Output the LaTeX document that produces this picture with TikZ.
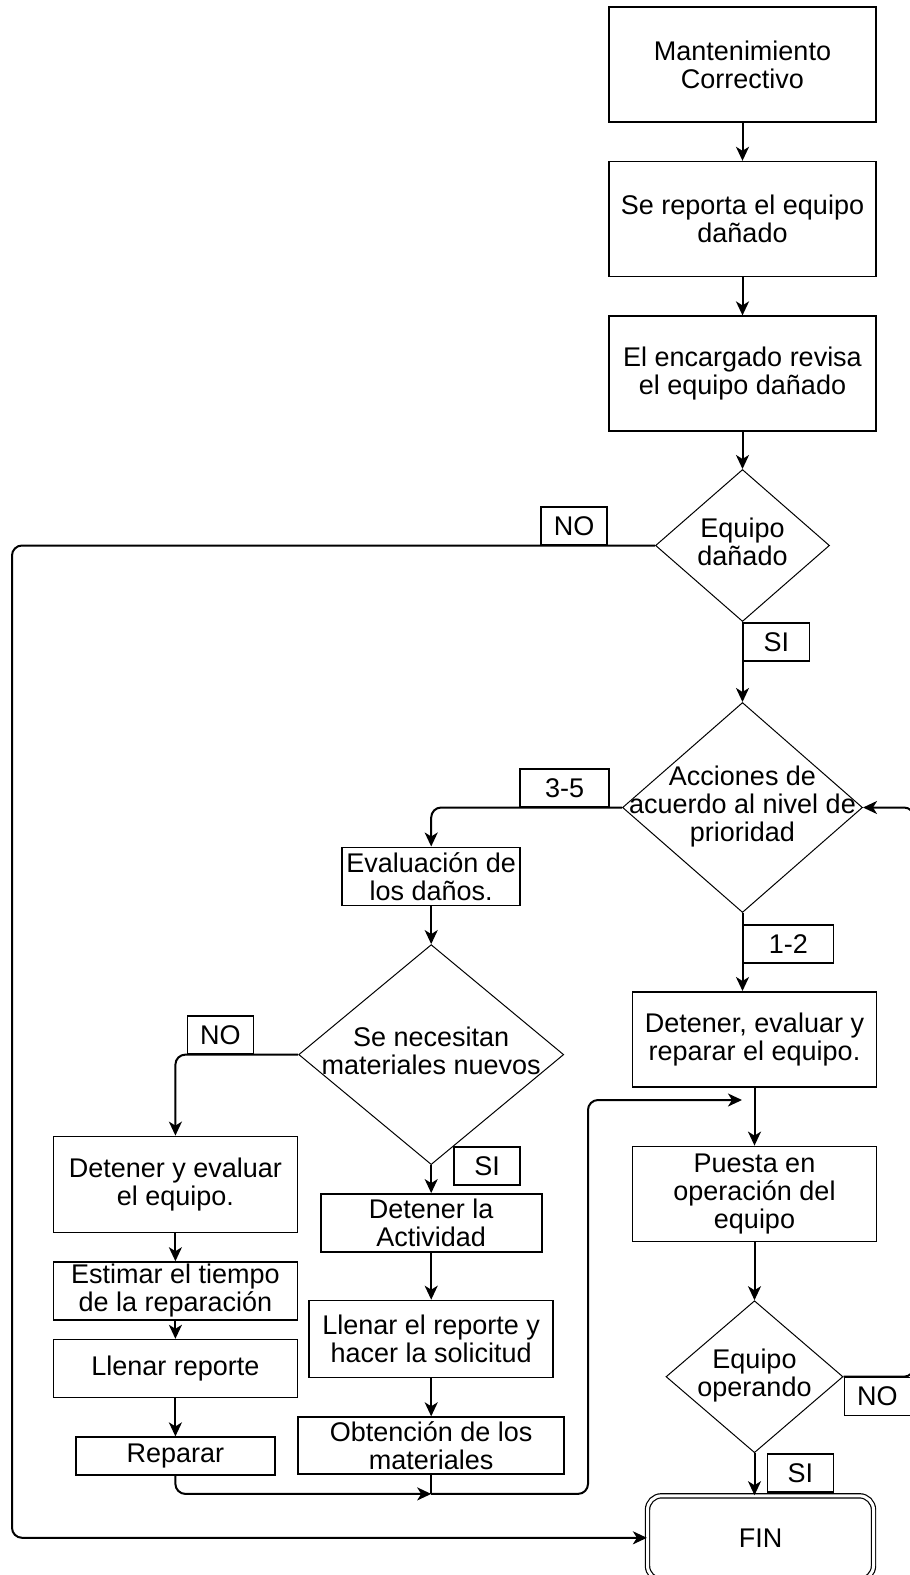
\documentclass[tikz,border=0pt]{standalone}
\usepackage{fontspec}
\setmainfont{Liberation Sans}
\usetikzlibrary{shapes.geometric, arrows.meta, positioning}
\tikzstyle{line} = [draw, line width=1pt, -{Stealth[length=7pt, width=6.5pt, inset=2pt]}]
\tikzstyle{block} = [rectangle, draw, line width=0.8pt, align=center, inner sep=1pt]
\tikzstyle{decision} = [diamond, draw, line width=0.5pt, inner sep=0pt]
\tikzstyle{tag} = [rectangle, draw, line width=0.8pt, inner sep=0pt, minimum width=33pt, minimum height=19pt]
\tikzstyle{terminal} = [rectangle, draw, rounded corners=7pt, double, double distance=1.5pt, line width=0.6pt]
\newcommand{\dlines}[1]{\makebox[0pt]{\begin{tabular}{@{}c@{}}#1\end{tabular}}}

\begin{document}
\begin{tikzpicture}[x=0.5pt, y=-0.5pt, font=\fontsize{13.5}{14}\selectfont]
\useasboundingbox (0,0) rectangle (910,1575);
% main column
\node [block, minimum width=133.5pt, minimum height=57.5pt] (mant) at (742.5,64.5) {Mantenimiento\\Correctivo};
\node [block, minimum width=133.5pt, minimum height=57.5pt, below=19pt of mant] (reporta) {Se reporta el equipo\\dañado};
\node [block, minimum width=133.5pt, minimum height=57.5pt, below=19pt of reporta] (revisa) {El encargado revisa\\el equipo dañado};
\node [decision, minimum width=87pt, minimum height=76pt, below=18.5pt of revisa] (danado) {\dlines{Equipo\\dañado}};
\node [decision, minimum width=120pt, minimum height=105pt, below=40pt of danado] (acciones) {\dlines{Acciones de\\acuerdo al nivel de\\prioridad}};
\node [block, minimum width=122pt, minimum height=47.5pt, below=39pt of acciones, xshift=6pt] (reparar1) {Detener, evaluar y\\reparar el equipo.};
\node [block, minimum width=122pt, minimum height=47.5pt, below=29pt of reparar1] (puesta) {Puesta en\\operación del\\equipo};
\node [decision, minimum width=88.5pt, minimum height=76pt, below=29pt of puesta] (operando) {\dlines{Equipo\\operando}};
\node [terminal, minimum width=113pt, minimum height=42pt, below=21pt of operando, xshift=3pt] (fin) {FIN};
% 3-5 branch
\node [block, minimum width=89pt, minimum height=29pt, below left=19.5pt and 50.5pt of acciones.west] (eval) {Evaluación de\\los daños.};
\node [decision, minimum width=132.5pt, minimum height=110pt, below=19pt of eval] (necesitan) {\dlines{Se necesitan\\materiales nuevos}};
\node [block, minimum width=110.5pt, minimum height=29pt, below=14pt of necesitan] (actividad) {Detener la\\Actividad};
\node [block, minimum width=122pt, minimum height=38.5pt, below=23.5pt of actividad] (solicitud) {Llenar el reporte y\\hacer la solicitud};
\node [block, minimum width=133pt, minimum height=28.5pt, below=19pt of solicitud] (obtencion) {Obtención de los\\materiales};
\node [block, minimum width=122pt, minimum height=48pt, below left=40.5pt and 0pt of necesitan.west] (detener) {Detener y evaluar\\el equipo.};
\node [block, minimum width=122pt, minimum height=29pt, below=14pt of detener] (estimar) {Estimar el tiempo\\de la reparación};
\node [block, minimum width=122pt, minimum height=29pt, below=9pt of estimar] (llenar) {Llenar reporte};
\node [block, minimum width=99.5pt, minimum height=19pt, below=19pt of llenar] (reparar) {Reparar};
% labels
\node [tag, above left=0pt and 23.5pt of danado.west] (no1) {NO};
\node [tag, below right=0pt and 0pt of danado.south] (si1) {SI};
\node [tag, minimum width=44.5pt, above left=0pt and 6pt of acciones.west] (tres) {3-5};
\node [tag, minimum width=45pt, below right=5.5pt and 0pt of acciones.south] (uno) {1-2};
\node [tag, above left=0pt and 22pt of necesitan.west] (no2) {NO};
\node [tag, below right=-9.5pt and 11pt of necesitan.south] (si2) {SI};
\node [tag, below right=0pt and 0pt of operando.east] (no3) {NO};
\node [tag, below right=0pt and 6pt of operando.south] (si3) {SI};
\coordinate [below=9.5pt of obtencion] (merge);
\coordinate (jog) at (588,1100);
\coordinate (join) at (742,1100);
\coordinate (rail) at (12,0);
\coordinate (loop) at (914,0);
\path [line] (mant) -- (reporta);
\path [line] (reporta) -- (revisa);
\path [line] (revisa) -- (danado);
\path [line] (danado) -- (acciones);
\path [line, rounded corners=5pt] (danado.west) -| (rail |- fin.west) -- (fin.west);
\path [line, rounded corners=5pt] (acciones.west) -| (eval.north);
\path [line] (acciones.south) -- (acciones.south |- reparar1.north);
\path [line] (eval) -- (necesitan);
\path [line, rounded corners=5pt] (necesitan.west) -| (detener.north);
\path [line] (necesitan.south) -- (actividad.north);
\path [line] (actividad) -- (solicitud);
\path [line] (solicitud) -- (obtencion);
\path [line] (detener) -- (estimar);
\path [line] (estimar) -- (llenar);
\path [line] (llenar) -- (reparar);
\path [line, rounded corners=5pt] (reparar.south) |- (merge);
\draw [line width=1pt] (obtencion.south) -- (merge);
\path [line, rounded corners=5pt] (merge) -| (jog) -- (join);
\path [line] (reparar1) -- (puesta);
\path [line] (puesta) -- (operando);
\path [line] (operando.south) -- (operando.south |- fin.north);
\path [line, rounded corners=5pt] (operando.east) -| (loop |- acciones.east) -- (acciones.east);
\end{tikzpicture}
\end{document}
